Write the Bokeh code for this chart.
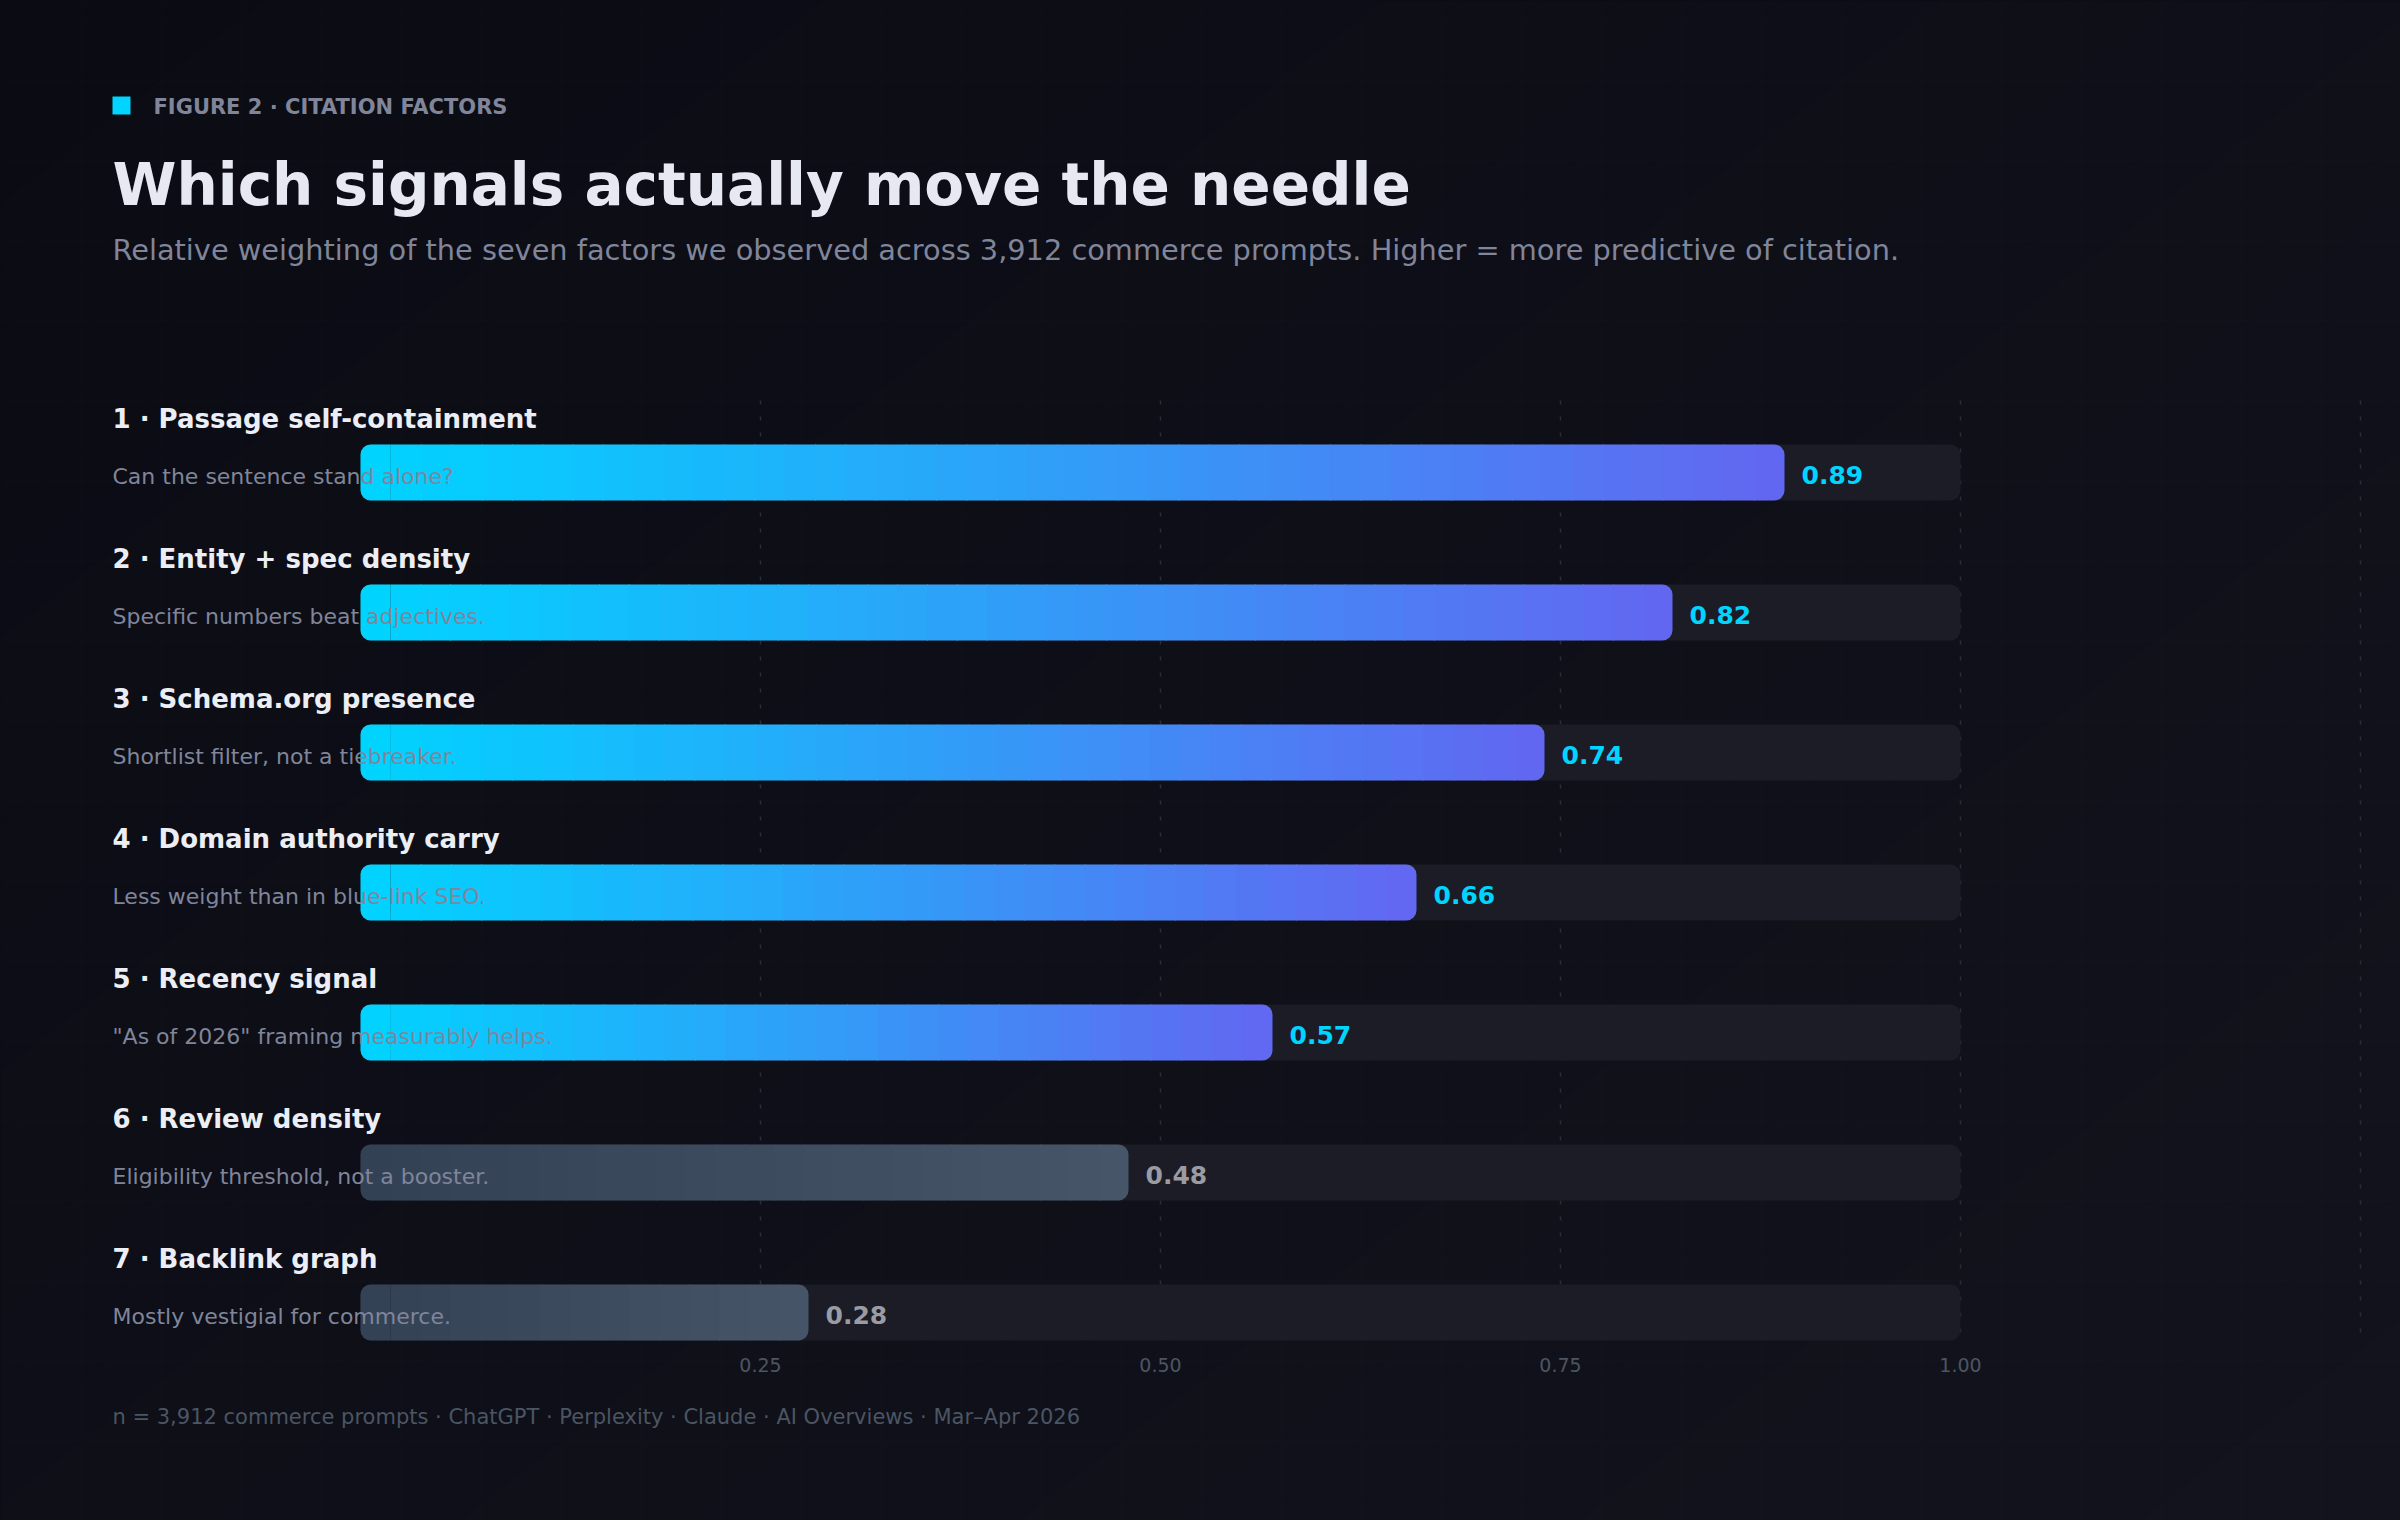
import numpy as np
from bokeh.plotting import figure
from bokeh.models import Range1d
from bokeh.core.properties import value
from bokeh.embed import file_html
from bokeh.resources import INLINE

# ---- data -------------------------------------------------------------
factors = [
    "Passage self-containment",
    "Entity + spec density",
    "Schema.org presence",
    "Domain authority carry",
    "Recency signal",
    "Review density",
    "Backlink graph",
]
notes = [
    "Can the sentence stand alone?",
    "Specific numbers beat adjectives.",
    "Shortlist filter, not a tiebreaker.",
    "Less weight than in blue-link SEO.",
    "\"As of 2026\" framing measurably helps.",
    "Eligibility threshold, not a booster.",
    "Mostly vestigial for commerce.",
]
weights = [0.89, 0.82, 0.74, 0.66, 0.57, 0.48, 0.28]
accented = [True, True, True, True, True, False, False]
tick_values = [0.25, 0.50, 0.75, 1.00]
tick_labels = ["0.25", "0.50", "0.75", "1.00"]
grid_values = [0.25, 0.50, 0.75, 1.00, 1.25]

kicker = "FIGURE 2 \u00b7 CITATION FACTORS"
headline = "Which signals actually move the needle"
dek = ("Relative weighting of the seven factors we observed across 3,912 commerce "
       "prompts. Higher = more predictive of citation.")
source = ("n = 3,912 commerce prompts \u00b7 ChatGPT \u00b7 Perplexity \u00b7 Claude "
          "\u00b7 AI Overviews \u00b7 Mar\u2013Apr 2026")

# ---- layout -----------------------------------------------------------
W, H = 2400, 1520
X0, UNIT = 360, 1600          # pixel position of weight 0 and pixels per 1.0
LEFT = 112
ROW0, STEP, BAR_H = 472, 140, 56
FONT = value("DejaVu Sans")

ACCENT_A, ACCENT_B = (0, 212, 255), (99, 102, 241)
MUTED_A, MUTED_B = (51, 65, 85), (71, 85, 105)
BG_A, BG_B = (10, 11, 19), (18, 19, 28)


def dx(px):
    return (np.asarray(px, dtype=float) - X0) / UNIT


def hexc(rgb):
    return "#%02x%02x%02x" % tuple(int(round(c)) for c in rgb)


def mix(a, b, t):
    return tuple(a[k] + (b[k] - a[k]) * t for k in range(3))


p = figure(width=W, height=H,
           x_range=Range1d(float(dx(0)), float(dx(W))), y_range=Range1d(H, 0),
           output_backend="svg", toolbar_location=None, min_border=0,
           x_axis_type=None, y_axis_type=None, outline_line_color=None,
           background_fill_color="#0b0c14", border_fill_color="#0b0c14")
p.styles = {"background-color": "#0b0c14"}

# diagonal background wash: bands of constant shade running across the page
WX, WY = 0.55, 0.45
edges = np.linspace(-0.05, 1.05, 61)
band_x, band_y, band_c = [], [], []
xa, xb = -200.0, W + 200.0


def shade_line(s, x):
    return (s - x / W * WX) * H / WY


for k in range(len(edges) - 1):
    s0, s1 = edges[k], edges[k + 1] + 0.01
    pts_x = [xa, xb, xb, xa]
    pts_y = [shade_line(s0, xa), shade_line(s0, xb), shade_line(s1, xb), shade_line(s1, xa)]
    band_x.append(list(dx(pts_x)))
    band_y.append(pts_y)
    band_c.append(hexc(mix(BG_A, BG_B, float(np.clip((edges[k] + edges[k + 1]) / 2, 0, 1)))))
p.patches(xs=band_x, ys=band_y, fill_color=band_c, line_color=None)

# faint square backdrop grid
vx = np.arange(80, W, 80) + 1.5
hy = np.arange(80, H, 80) + 0.5
p.segment(x0=dx(vx), y0=0, x1=dx(vx), y1=H,
          line_color="white", line_alpha=0.018, line_width=1)
p.segment(x0=float(dx(0)), y0=hy, x1=float(dx(W)), y1=hy,
          line_color="white", line_alpha=0.018, line_width=1)

# dashed value guides
p.segment(x0=grid_values, y0=400, x1=grid_values, y1=1340,
          line_color="#2a2c39", line_width=1.5, line_dash="4 12")

rows = [ROW0 + STEP * i for i in range(len(weights))]

# tracks
p.hbar(y=rows, left=0, right=1.0, height=BAR_H,
       fill_color="#1b1c25", line_color=None, border_radius=10)

# gradient bars built from thin vertical slices
mid = dict(l=[], r=[], y=[], c=[])
first = dict(l=[], r=[], y=[], c=[])
last = dict(l=[], r=[], y=[], c=[])
for y, w, acc in zip(rows, weights, accented):
    a, b = (ACCENT_A, ACCENT_B) if acc else (MUTED_A, MUTED_B)
    n = max(12, int(round(w * UNIT / 30)))
    for j in range(n):
        l = w * j / n
        r = w * (j + 1) / n
        c = hexc(mix(a, b, (j + 0.5) / n))
        if j == 0:
            tgt = first
        elif j == n - 1:
            tgt = last
        else:
            tgt = mid
            r += 1.0 / UNIT
        tgt["l"].append(l); tgt["r"].append(r); tgt["y"].append(y); tgt["c"].append(c)

p.hbar(y=mid["y"], left=mid["l"], right=mid["r"], height=BAR_H,
       fill_color=mid["c"], line_color=None)
p.hbar(y=first["y"], left=first["l"], right=first["r"], height=BAR_H,
       fill_color=first["c"], line_color=None, border_radius=(10, 0, 0, 10))
p.hbar(y=last["y"], left=last["l"], right=last["r"], height=BAR_H,
       fill_color=last["c"], line_color=None, border_radius=(0, 10, 10, 0))

# row labels
p.text(x=float(dx(LEFT)), y=[r - 54 for r in rows],
       text=[f"{i + 1} \u00b7 {f}" for i, f in enumerate(factors)],
       text_font=FONT, text_font_style="bold", text_font_size="26px",
       text_color="#eceef5", text_baseline="middle", text_align="left")
p.text(x=float(dx(LEFT)), y=[r + 4 for r in rows], text=notes,
       text_font=FONT, text_font_size="22px", text_color="#80859a",
       text_baseline="middle", text_align="left")

# value labels
p.text(x=[w + 17 / UNIT for w in weights], y=[r + 2 for r in rows],
       text=["%.2f" % w for w in weights],
       text_font=FONT, text_font_style="bold", text_font_size="25px",
       text_color=["#00d4ff" if a else "#9a9ba3" for a in accented],
       text_baseline="middle", text_align="left")

# tick labels
p.text(x=tick_values, y=1364, text=tick_labels, text_font=FONT,
       text_font_size="19px", text_color="#4b5563",
       text_baseline="middle", text_align="center")

# header
p.quad(left=float(dx(112)), right=float(dx(130)), top=96, bottom=114,
       fill_color="#00d4ff", line_color=None)
p.text(x=float(dx(153)), y=[106], text=[kicker], text_font=FONT,
       text_font_style="bold", text_font_size="21px", text_color="#80859a",
       text_baseline="middle", text_align="left")
p.text(x=float(dx(LEFT)), y=[184], text=[headline], text_font=FONT,
       text_font_style="bold", text_font_size="58px", text_color="#e6e8f2",
       text_baseline="middle", text_align="left")
p.text(x=float(dx(LEFT)), y=[249], text=[dek], text_font=FONT,
       text_font_size="28.8px", text_color="#80859a",
       text_baseline="middle", text_align="left")

# footer
p.text(x=float(dx(LEFT)), y=[1416], text=[source], text_font=FONT,
       text_font_size="21px", text_color="#4b5563",
       text_baseline="middle", text_align="left")

open("out.html", "w").write(file_html(p, INLINE))
